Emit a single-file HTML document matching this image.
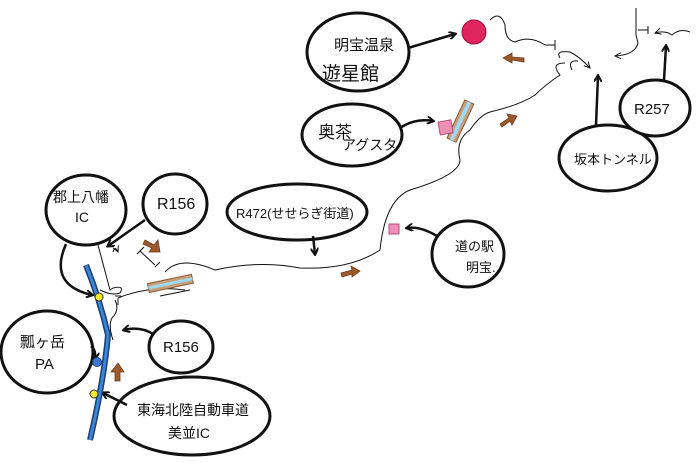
<!DOCTYPE html>
<html><head><meta charset="utf-8"><style>
html,body{margin:0;padding:0;background:#fff;}
svg{display:block}
text{font-family:"Liberation Sans","Noto Sans CJK JP",sans-serif;fill:#111;}
</style></head><body>
<svg width="700" height="463" viewBox="0 0 700 463" xmlns="http://www.w3.org/2000/svg">
<defs>
<marker id="a" markerWidth="8" markerHeight="8" refX="6" refY="4" orient="auto" markerUnits="userSpaceOnUse"><path d="M0,0 L7,4 L0,8" fill="none" stroke="#111" stroke-width="2"/></marker>
<marker id="b" markerWidth="8" markerHeight="8" refX="6" refY="4" orient="auto" markerUnits="userSpaceOnUse"><path d="M0,1 L6,4 L0,7" fill="none" stroke="#111" stroke-width="1"/></marker>
</defs>
<g fill="#fff" stroke="#111" stroke-width="3">
<ellipse cx="358" cy="52" rx="51" ry="39"/>
<ellipse cx="352" cy="135" rx="50" ry="31"/>
<ellipse cx="608" cy="158" rx="49" ry="33"/>
<ellipse cx="655" cy="108" rx="35" ry="28"/>
<ellipse cx="468" cy="254" rx="36" ry="33"/>
<ellipse cx="297" cy="212" rx="70" ry="28"/>
<ellipse cx="86" cy="210" rx="40" ry="35"/>
<ellipse cx="175" cy="204" rx="32" ry="30"/>
<ellipse cx="181" cy="347" rx="32" ry="26"/>
<ellipse cx="47" cy="352" rx="46" ry="41"/>
<ellipse cx="192" cy="416" rx="78" ry="39"/>
</g>
<g stroke="#111" stroke-width="2.5" fill="none" marker-end="url(#a)">
<path d="M408,48 L455,34"/>
<path d="M400,128 Q415,118 433,121"/>
<path d="M596,125 L598,76"/>
<path d="M664,80 L666,46"/>
<path d="M437,236 Q420,226 407,228"/>
<path d="M313,236 L315,254"/>
<path d="M66,244 Q48,285 92,295"/>
<path d="M145,220 L108,246"/>
<path d="M153,334 Q140,326 124,330"/>
<path d="M91,346 Q96,350 95,358"/>
<path d="M127,405 L103,393"/>
</g>
<path d="M86,265 Q100,300 108,335 Q104,380 90,440" stroke="#1c3d78" stroke-width="6" fill="none"/>
<path d="M86,265 Q100,300 108,335 Q104,380 90,440" stroke="#3a86d4" stroke-width="3" fill="none"/>
<circle cx="99" cy="297" r="4" fill="#f4e832" stroke="#333"/>
<circle cx="94" cy="394" r="4" fill="#f4e832" stroke="#333"/>
<circle cx="97" cy="362" r="4.5" fill="#3a78d0" stroke="#1c3d78"/>
<g stroke="#111" stroke-width="1" fill="none">
<path d="M98,245 L110,290 L113,288"/>
<path d="M113,288 Q125,285 120,293 Q112,296 100,290"/>
<path d="M113,252 Q115,245 118,252" marker-end="url(#b)"/>
<path d="M140,251 L155,265 M137,254 L144,247 M155,267 L160,262"/>
<path d="M165,272 Q180,255 215,270 Q260,260 300,268 Q350,270 380,250 Q385,200 410,190 Q460,175 460,160 Q455,140 470,130 Q480,115 490,112 Q520,105 535,95 Q545,85 560,75 Q550,63 565,63"/>
<path d="M118,298 L118,305 M115,296 L121,296"/>
<path d="M115,300 Q120,310 112,318 Q108,325 113,340"/>
<path d="M118,298 Q150,285 185,290"/>
<path d="M160,296 L190,290"/>
<path d="M490,20 Q500,10 505,25 Q505,40 515,42 Q530,35 545,45 L555,45 M555,40 L555,50"/>
<path d="M560,58 Q555,50 570,52 Q580,57 590,68" marker-end="url(#b)"/>
<path d="M572,70 Q567,60 578,61"/>
<path d="M636,8 L636,35 L638,43 Q635,55 615,56" marker-end="url(#b)"/>
<path d="M638,30 L648,30 M648,26 L648,34"/>
<path d="M690,32 Q680,28 672,35 Q665,30 655,33" marker-end="url(#b)"/>
</g>
<g transform="rotate(-12 170 284)">
<rect x="148" y="279" width="45" height="9" fill="#c7a07a" stroke="#8b5a33"/>
<rect x="148" y="282" width="45" height="3" fill="#9fd8f0"/>
</g>
<g transform="rotate(-65 460 122)">
<rect x="440" y="117" width="42" height="10" fill="#c7a07a" stroke="#8b5a33"/>
<rect x="440" y="120" width="42" height="4" fill="#9fd8f0"/>
</g>
<rect x="389" y="224" width="10" height="10" fill="#ef8fb5" stroke="#b05080"/>
<rect x="439" y="121" width="13" height="13" fill="#ef8fb5" stroke="#b05080" transform="rotate(-10 445 127)"/>
<circle cx="474" cy="32" r="12" fill="#e0245e" stroke="#9a1040"/>
<g fill="#a0592b" stroke="#6b3a1c" stroke-width="0.8">
<path d="M145,240 L154,245 L158,240 L160,252 L149,252 L152,248 L143,244Z"/>
<path d="M341,273 L352,270 L351,266 L360,271 L352,277 L352,274 L342,277Z"/>
<path d="M115,381 L115,372 L111,372 L118,363 L124,372 L120,372 L120,381Z"/>
<path d="M500,124 L509,118 L507,114 L517,116 L512,125 L510,121 L502,127Z"/>
<path d="M524,58 L512,57 L512,53 L503,58 L512,63 L512,60 L524,62Z"/>
</g>
<g font-size="16">
<text x="334" y="50" font-size="15">明宝温泉</text>
<text x="322" y="80" font-size="19">遊星館</text>
<text x="318" y="138" font-size="17">奥茶</text>
<text x="342" y="150" font-size="14">アグスタ</text>
<text x="574" y="164" font-size="13">坂本トンネル</text>
<text x="634" y="114" font-size="15">R257</text>
<text x="455" y="251" font-size="13">道の駅</text>
<text x="466" y="272" font-size="13">明宝.</text>
<text x="236" y="218" font-size="13">R472(せせらぎ街道)</text>
<text x="53" y="202" font-size="14">郡上八幡</text>
<text x="75" y="222" font-size="14">IC</text>
<text x="157" y="209" font-size="16">R156</text>
<text x="163" y="352" font-size="15">R156</text>
<text x="20" y="347" font-size="15">瓢ヶ岳</text>
<text x="35" y="369" font-size="15">PA</text>
<text x="137" y="415" font-size="14">東海北陸自動車道</text>
<text x="168" y="438" font-size="14">美並IC</text>
</g>
</svg>
</body></html>
